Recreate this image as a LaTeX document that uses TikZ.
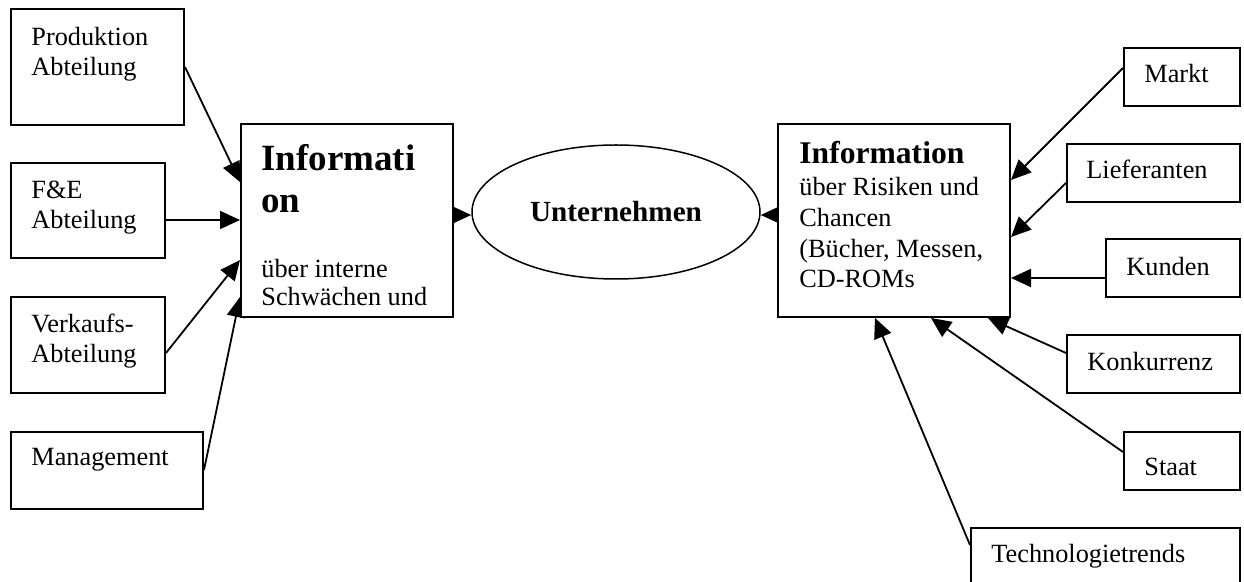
\documentclass[tikz,border=0pt]{standalone}
\usepackage{fontspec}
\setmainfont{Liberation Serif}
\usetikzlibrary{arrows.meta,fit,shapes.geometric,backgrounds}

\tikzset{
  box/.style={draw, line width=1pt, fill=white, inner sep=0pt, rectangle},
  lbl/.style={anchor=base west, inner sep=0pt, font=\fontsize{13.15}{15}\selectfont},
  conn/.style={line width=0.9pt, -{Triangle[length=10pt,width=9pt]}},
}
\newcommand{\lines}[1]{\begin{tabular}[t]{@{}l@{}}#1\end{tabular}}

\begin{document}
\begin{tikzpicture}[x=0.5pt,y=-0.5pt]
\useasboundingbox (0,0) rectangle (1244,582);

% internal sources
\node[box, fit={(11,9)(184,125)}] (prod) {};
\node[box, fit={(11,163)(165,258)}] (fe) {};
\node[box, fit={(11,297)(165,393)}] (verk) {};
\node[box, fit={(11,432)(203,509)}] (mgmt) {};

% collected information and the company
\node[box, fit={(241,124)(453,317)}] (intern) {};
\node[draw, ellipse, line width=0.75pt, fill=white, minimum width=144pt,
      minimum height=67pt, inner sep=0pt,
      font=\fontsize{14.6}{17}\selectfont\bfseries] (unt) at (616,212) {Unternehmen};
\node[box, fit={(778,124)(1010,317)}] (extern) {};

% external sources
\node[box, fit={(1124,48)(1240,106)}] (markt) {};
\node[box, fit={(1067,144)(1240,202)}] (lief) {};
\node[box, fit={(1106,239)(1240,297)}] (kund) {};
\node[box, fit={(1067,335)(1240,393)}] (konk) {};
\node[box, fit={(1124,432)(1240,490)}] (staat) {};
\node[box, fit={(971,528)(1240,600)}] (tech) {};

% box texts
\node[lbl] (prodt) at ([xshift=10.5pt,yshift=-19pt]prod.north west) {\lines{Produktion\\Abteilung}};
\node[lbl] (fet) at ([xshift=10.5pt,yshift=-18.5pt]fe.north west) {\lines{F\&E\\Abteilung}};
\node[lbl] (verkt) at ([xshift=10.5pt,yshift=-18.5pt]verk.north west) {\lines{Verkaufs-\\Abteilung}};
\node[lbl] (mgmtt) at ([xshift=10.5pt,yshift=-17.5pt]mgmt.north west) {Management};

\node[lbl, font=\fontsize{18.5}{21}\selectfont\bfseries] (internh)
  at ([xshift=10.5pt,yshift=-24pt]intern.north west) {\lines{Informati\\on}};
\node[lbl, font=\fontsize{13.15}{14}\selectfont] (internt)
  at ([xshift=10.5pt,yshift=-77.5pt]intern.north west) {\lines{über interne\\Schwächen und}};

\node[lbl, font=\fontsize{15.8}{18}\selectfont\bfseries] (externh)
  at ([xshift=11pt,yshift=-20.5pt]extern.north west) {Information};
\node[lbl, font=\fontsize{13.15}{15.3}\selectfont] (externt)
  at ([xshift=11pt,yshift=-36.5pt]extern.north west)
  {\lines{über Risiken und\\Chancen\\(Bücher, Messen,\\CD-ROMs}};

\node[lbl] (marktt) at ([xshift=10.5pt,yshift=-18pt]markt.north west) {Markt};
\node[lbl] (lieft) at ([xshift=10pt,yshift=-18pt]lief.north west) {Lieferanten};
\node[lbl] (kundt) at ([xshift=10.5pt,yshift=-19pt]kund.north west) {Kunden};
\node[lbl] (konkt) at ([xshift=10.5pt,yshift=-18.5pt]konk.north west) {Konkurrenz};
\node[lbl] (staatt) at ([xshift=10.5pt,yshift=-22.5pt]staat.north west) {Staat};
\node[lbl] (techt) at ([xshift=10.5pt,yshift=-18pt]tech.north west) {Technologietrends};

% connectors, drawn beneath the boxes
\begin{scope}[on background layer]
  \draw[conn] (prod.east |- 0,67) -- (intern.west |- 0,182);
  \draw[conn] (fe.east |- 0,220) -- (intern.west |- 0,220);
  \draw[conn] (verk.east |- 0,353) -- (intern.west |- 0,260);
  \draw[conn] (mgmt.east |- 0,470) -- (intern.west |- 0,297);
  \draw[conn] (intern.east |- 0,215) -- (unt.west |- 0,215);
  \draw[conn] (extern.west |- 0,215) -- (unt.east |- 0,215);
  \draw[conn] (markt.west |- 0,68) -- (extern.east |- 0,180);
  \draw[conn] (lief.west |- 0,183) -- (extern.east |- 0,237);
  \draw[conn] (kund.west |- 0,278) -- (extern.east |- 0,278);
  \draw[conn] (konk.west |- 0,353) -- (extern.south -| 988,0);
  \draw[conn] (staat.west |- 0,452) -- (extern.south -| 931,0);
  \draw[conn] (tech.west |- 0,545) -- (extern.south -| 875,0);
\end{scope}
\end{tikzpicture}
\end{document}
